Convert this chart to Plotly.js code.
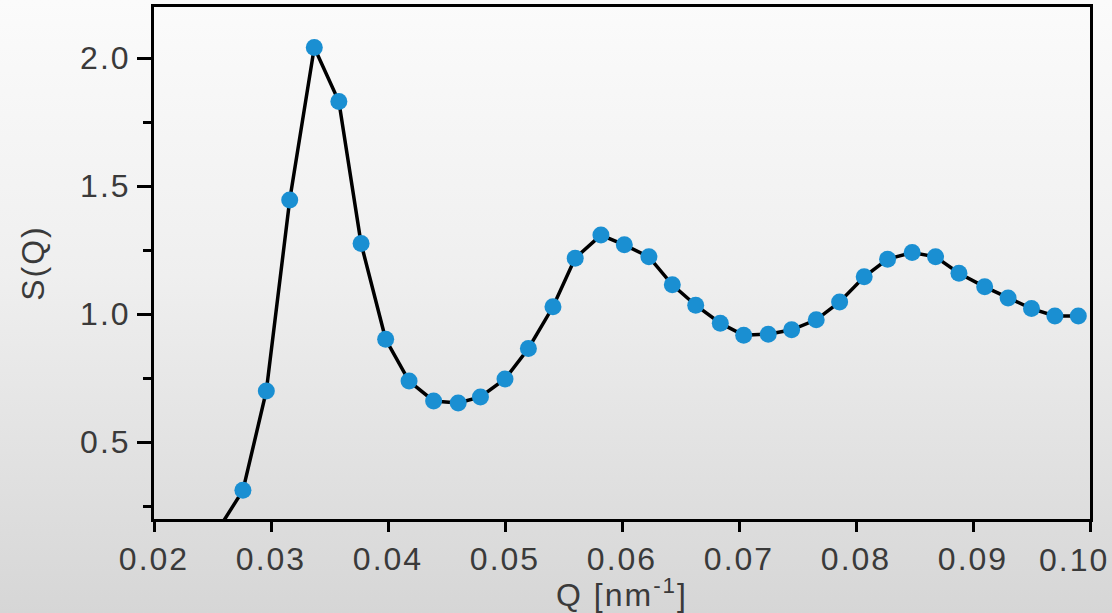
<!DOCTYPE html>
<html>
<head>
<meta charset="utf-8">
<script src="https://cdn.plot.ly/plotly-3.0.1.min.js"></script>
<style>
  html, body { margin: 0; padding: 0; }
  body {
    width: 1112px; height: 613px; overflow: hidden;
    background: linear-gradient(to bottom, #fbfbfb 0%, #efefef 45%, #d6d6d6 100%);
  }
  #chart { width: 1112px; height: 613px; }
  .xtick text, .ytick text, .g-xtitle text, .g-ytitle text, .annotation-text { letter-spacing: 2px; }
</style>
</head>
<body>
<div id="chart"></div>
<script>
// Scattering vector Q [nm^-1]
const Q = [0.0255, 0.0276, 0.0296, 0.0316, 0.0337, 0.0358, 0.0377, 0.0398, 0.0418, 0.0439,
           0.0460, 0.0479, 0.0500, 0.0520, 0.0541, 0.0560, 0.0582, 0.0602, 0.0623, 0.0643,
           0.0663, 0.0684, 0.0704, 0.0725, 0.0745, 0.0766, 0.0786, 0.0807, 0.0827, 0.0848,
           0.0868, 0.0888, 0.0910, 0.0930, 0.0950, 0.0970, 0.0990];
// Structure factor S(Q)
const SQ = [0.16, 0.312, 0.700, 1.446, 2.042, 1.831, 1.276, 0.902, 0.739, 0.661,
            0.653, 0.677, 0.747, 0.866, 1.029, 1.219, 1.309, 1.271, 1.224, 1.115,
            1.035, 0.965, 0.918, 0.922, 0.939, 0.978, 1.048, 1.146, 1.215, 1.241,
            1.224, 1.160, 1.107, 1.063, 1.022, 0.993, 0.993];

const yTickVals = [0.5, 1.0, 1.5, 2.0];
const yTickText = ['0.5', '1.0', '1.5', '2.0'];
const yMinorVals = [0.25, 0.75, 1.25, 1.75];
const xTickVals = [0.02, 0.03, 0.04, 0.05, 0.06, 0.07, 0.08, 0.09, 0.10];
const xTickText = ['0.02', '0.03', '0.04', '0.05', '0.06', '0.07', '0.08', '0.09', '0.10'];

const FONT = 'Liberation Sans, Arial, Helvetica, sans-serif';
const TXT = '#3a3a3a';
const FS = 32;

// the last tick label sits flush with the right edge in the reference, so it is
// drawn as an annotation pinned to its tick instead of a centred tick label
const lastIdx = xTickVals.length - 1;
const shownTickText = xTickText.map((t, i) => (i === lastIdx ? '' : t));

const trace = {
  x: Q, y: SQ,
  type: 'scatter', mode: 'lines+markers',
  line: { color: '#000000', width: 3.5 },
  marker: { color: '#1a8fd2', size: 17, line: { width: 0 } },
  cliponaxis: true,
  hoverinfo: 'x+y'
};

const layout = {
  width: 1112, height: 613,
  margin: { l: 154, r: 22, t: 7, b: 94 },
  paper_bgcolor: 'rgba(0,0,0,0)',
  plot_bgcolor: 'rgba(0,0,0,0)',
  showlegend: false,
  font: { family: FONT, color: TXT, size: FS },
  xaxis: {
    range: [0.02, 0.10],
    tickvals: xTickVals, ticktext: shownTickText,
    ticks: 'outside', ticklen: 10, tickwidth: 3, tickcolor: '#000',
    showline: true, linewidth: 3, linecolor: '#000', mirror: true,
    showgrid: false, zeroline: false,
    ticklabelstandoff: 0,
    tickfont: { family: FONT, size: FS, color: TXT },
    title: { text: 'Q [nm<sup>-1</sup>]', font: { family: FONT, size: FS, color: TXT }, standoff: 2 }
  },
  yaxis: {
    range: [0.2, 2.2],
    tickvals: yTickVals, ticktext: yTickText,
    ticks: 'outside', ticklen: 14, tickwidth: 3, tickcolor: '#000',
    minor: { tickvals: yMinorVals, ticks: 'outside', ticklen: 8, tickwidth: 3, tickcolor: '#000' },
    showline: true, linewidth: 3, linecolor: '#000', mirror: true,
    showgrid: false, zeroline: false,
    ticklabelstandoff: 0,
    tickfont: { family: FONT, size: FS, color: TXT },
    title: { text: 'S(Q)', font: { family: FONT, size: FS, color: TXT }, standoff: 26 }
  },
  annotations: [{
    text: xTickText[lastIdx],
    x: xTickVals[lastIdx], xref: 'x',
    y: 0, yref: 'paper',
    xanchor: 'right', yanchor: 'top',
    xshift: 21, yshift: -21,
    showarrow: false,
    font: { family: FONT, size: FS, color: TXT }
  }]
};

Plotly.newPlot('chart', [trace], layout, { displayModeBar: false, staticPlot: true });
</script>
</body>
</html>
